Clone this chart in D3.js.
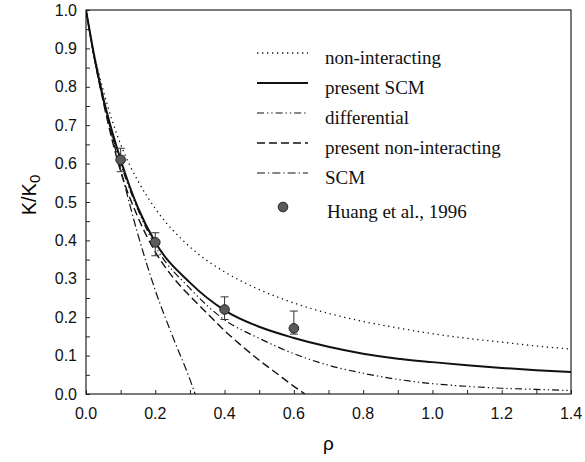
<!DOCTYPE html>
<html>
<head>
<meta charset="utf-8">
<script src="https://cdn.jsdelivr.net/npm/d3@7"></script>
<style>
  body { margin: 0; background: #fff; }
  svg { display: block; }
</style>
</head>
<body>
<div id="chart"></div>
<script>
// values
const rhoGrid = [0, 0.025, 0.05, 0.1, 0.15, 0.2, 0.3, 0.4, 0.5, 0.6, 0.7, 0.8, 0.9, 1.0, 1.1, 1.2, 1.3, 1.4];
const nonInteractingK = [1, 0.88, 0.79, 0.65, 0.555, 0.483, 0.383, 0.318, 0.272, 0.237, 0.21, 0.189, 0.172, 0.157, 0.145, 0.135, 0.125, 0.117];
const presentScmK = [1, 0.875, 0.77, 0.61, 0.485, 0.395, 0.29, 0.218, 0.175, 0.146, 0.123, 0.105, 0.092, 0.083, 0.075, 0.068, 0.062, 0.057];
const differentialK = [1, 0.87, 0.765, 0.60, 0.48, 0.385, 0.275, 0.193, 0.145, 0.105, 0.075, 0.054, 0.038, 0.027, 0.02, 0.015, 0.012, 0.009];

const presNonIntRho = [0, 0.025, 0.05, 0.1, 0.15, 0.2, 0.25, 0.3, 0.35, 0.4, 0.45, 0.5, 0.55, 0.6, 0.632];
const presNonIntK = [1, 0.87, 0.76, 0.58, 0.46, 0.37, 0.305, 0.255, 0.21, 0.165, 0.125, 0.088, 0.054, 0.02, 0];

const scmRho = [0, 0.025, 0.05, 0.1, 0.15, 0.2, 0.25, 0.3, 0.315];
const scmK = [1, 0.87, 0.765, 0.585, 0.415, 0.27, 0.15, 0.038, 0];

const huangRho = [0.1, 0.2, 0.4, 0.6];
const huangK = [0.61, 0.395, 0.22, 0.171];
const huangHi = [0.64, 0.42, 0.253, 0.216];
const huangLo = [0.579, 0.36, 0.194, 0.156];

const xTicks = [0, 0.2, 0.4, 0.6, 0.8, 1.0, 1.2, 1.4];
const yTicks = [0, 0.1, 0.2, 0.3, 0.4, 0.5, 0.6, 0.7, 0.8, 0.9, 1.0];

const svgWidth = 585, svgHeight = 462;
const margin = {left: 86, top: 10, right: 14, bottom: 68};
const width = svgWidth - margin.left - margin.right;
const height = svgHeight - margin.top - margin.bottom;

const svg = d3.select("#chart").append("svg")
    .attr("width", svgWidth)
    .attr("height", svgHeight);

const g = svg.append("g")
    .attr("transform", "translate(" + margin.left + "," + margin.top + ")");

const xscale = d3.scaleLinear().domain([0, 1.4]).range([0, width]);
const yscale = d3.scaleLinear().domain([0, 1.0]).range([height, 0]);

g.append("clipPath").attr("id", "clip")
  .append("rect").attr("width", width).attr("height", height);

// axes: ticks pointing inward, labels drawn by hand below
const xAxis = d3.axisBottom(xscale)
    .tickValues(d3.range(0, 1.41, 0.1))
    .tickSize(-4).tickFormat("");
const yAxis = d3.axisLeft(yscale)
    .tickValues(d3.range(0, 1.01, 0.05))
    .tickSize(-4).tickFormat("");

g.append("g").attr("transform", "translate(0," + height + ")").call(xAxis)
  .call(s => s.select(".domain").remove())
  .selectAll("line").attr("stroke", "#222");
g.append("g").call(yAxis)
  .call(s => s.select(".domain").remove())
  .selectAll("line").attr("stroke", "#222");

g.append("rect")
  .attr("width", width).attr("height", height)
  .attr("fill", "none").attr("stroke", "#222").attr("stroke-width", 1.2);

g.selectAll(".xlab").data(xTicks).enter().append("text")
  .attr("x", d => xscale(d)).attr("y", height + 25)
  .attr("text-anchor", "middle")
  .style("font", "16px 'Liberation Sans', Arial, sans-serif")
  .attr("fill", "#111")
  .text(d => d.toFixed(1));

g.selectAll(".ylab").data(yTicks).enter().append("text")
  .attr("x", -9).attr("y", d => yscale(d) + 5.5)
  .attr("text-anchor", "end")
  .style("font", "16px 'Liberation Sans', Arial, sans-serif")
  .attr("fill", "#111")
  .text(d => d.toFixed(1));

svg.append("text")
  .attr("x", margin.left + width / 2).attr("y", 450)
  .attr("text-anchor", "middle")
  .style("font", "19px 'Liberation Sans', Arial, sans-serif")
  .text("ρ");

const ylab = svg.append("text")
  .attr("transform", "translate(36,195) rotate(-90)")
  .attr("text-anchor", "middle")
  .style("font", "20px 'Liberation Sans', Arial, sans-serif");
ylab.append("tspan").text("K/K");
ylab.append("tspan").attr("dy", 4).style("font-size", "15px").text("0");

// curves
const series = [
  {label: "non-interacting", rho: rhoGrid, k: nonInteractingK, dash: "1.3,3.7", w: 1.3},
  {label: "present SCM", rho: rhoGrid, k: presentScmK, dash: null, w: 2},
  {label: "differential", rho: rhoGrid, k: differentialK, dash: "7,3,1.3,3,1.3,3", w: 1.2},
  {label: "present non-interacting", rho: presNonIntRho, k: presNonIntK, dash: "8,4", w: 1.4},
  {label: "SCM", rho: scmRho, k: scmK, dash: "8,3,1.3,3", w: 1.2}
];

const line = d3.line()
    .x(d => xscale(d[0]))
    .y(d => yscale(d[1]))
    .curve(d3.curveMonotoneX);

series.forEach(function(s){
    g.append("path")
      .datum(s.rho.map((r, i) => [r, s.k[i]]))
      .attr("clip-path", "url(#clip)")
      .attr("fill", "none")
      .attr("stroke", "#111")
      .attr("stroke-width", s.w)
      .attr("stroke-dasharray", s.dash)
      .attr("d", line);
});

// Huang et al. points with error bars
const pts = huangRho.map((r, i) => ({x: r, y: huangK[i], hi: huangHi[i], lo: huangLo[i]}));
const bars = g.selectAll(".err").data(pts).enter().append("g");
bars.append("line")
  .attr("x1", d => xscale(d.x)).attr("x2", d => xscale(d.x))
  .attr("y1", d => yscale(d.hi)).attr("y2", d => yscale(d.lo))
  .attr("stroke", "#333").attr("stroke-width", 1);
bars.append("line")
  .attr("x1", d => xscale(d.x) - 4).attr("x2", d => xscale(d.x) + 4)
  .attr("y1", d => yscale(d.hi)).attr("y2", d => yscale(d.hi))
  .attr("stroke", "#333").attr("stroke-width", 1);
bars.append("line")
  .attr("x1", d => xscale(d.x) - 4).attr("x2", d => xscale(d.x) + 4)
  .attr("y1", d => yscale(d.lo)).attr("y2", d => yscale(d.lo))
  .attr("stroke", "#333").attr("stroke-width", 1);
bars.append("circle")
  .attr("cx", d => xscale(d.x)).attr("cy", d => yscale(d.y))
  .attr("r", 4.8)
  .attr("fill", "#5a5a5a").attr("stroke", "#222").attr("stroke-width", 1);

// legend
const legend = svg.append("g");
series.forEach(function(s, i){
    const base = 64 + i * 30;
    legend.append("line")
      .attr("x1", 257).attr("x2", 308)
      .attr("y1", base - 11).attr("y2", base - 11)
      .attr("stroke", "#111")
      .attr("stroke-width", s.w)
      .attr("stroke-dasharray", s.dash);
    legend.append("text")
      .attr("x", 325).attr("y", base)
      .style("font", "19px 'Liberation Serif', 'Times New Roman', serif")
      .attr("fill", "#111")
      .text(s.label);
});
legend.append("circle")
  .attr("cx", 283).attr("cy", 207).attr("r", 4.8)
  .attr("fill", "#5a5a5a").attr("stroke", "#222").attr("stroke-width", 1);
legend.append("text")
  .attr("x", 327).attr("y", 218)
  .style("font", "19px 'Liberation Serif', 'Times New Roman', serif")
  .attr("fill", "#111")
  .text("Huang et al., 1996");
</script>
</body>
</html>
